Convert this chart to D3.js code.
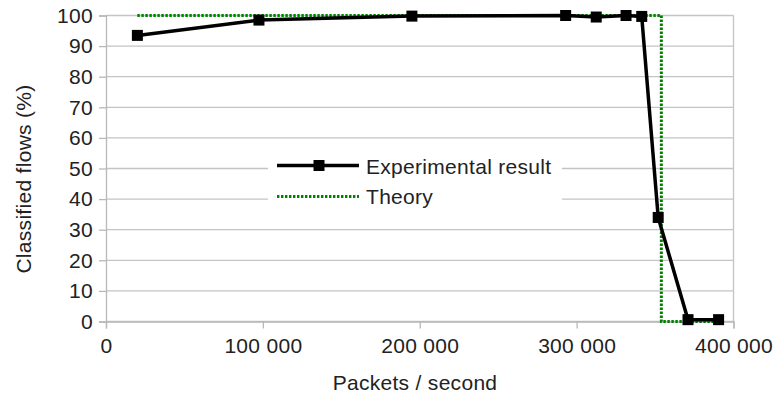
<!DOCTYPE html>
<html>
  <head>
    <meta charset="utf-8">
    <script src="https://d3js.org/d3.v7.min.js"></script>
    <style>
      body { margin: 0; background: #fff; }
      text { font-family: "Liberation Sans", Arial, sans-serif; fill: #222; letter-spacing: 0.3px; }
    </style>
  </head>
  <body>
    <div id="chart"></div>
<script>
  // packets per second vs classified flows
  const expRate = [20000, 97500, 195000, 293000, 312500, 331500, 341500, 352000, 371000, 390500];
  const expFlows = [93.5, 98.5, 99.8, 100, 99.5, 100, 99.7, 34, 0.6, 0.6];
  const theoryRate = [20000, 354000, 354000, 390500];
  const theoryFlows = [100, 100, 0, 0];
  const xTicks = [0, 100000, 200000, 300000, 400000];
  const yTicks = [0, 10, 20, 30, 40, 50, 60, 70, 80, 90, 100];
  const seriesNames = ["Experimental result", "Theory"];

  const width = 776, height = 401;
  const margin = {top: 15.5, right: 42.5, bottom: 79.5, left: 106};
  const fontSize = 21;

  const svg = d3.select("#chart")
	.append("svg")
	.attr("width", width)
	.attr("height", height);

  const x = d3.scaleLinear()
	.domain([0, 400000])
	.range([margin.left, width - margin.right]);
  const y = d3.scaleLinear()
	.domain([0, 100])
	.range([height - margin.bottom, margin.top]);

  const fmt = function(d) { return d3.format(",")(d).replace(/,/g, " "); };

  // gridlines
  svg.append("g")
    .selectAll("line")
    .data(yTicks)
    .join("line")
    .attr("x1", x(0)).attr("x2", x(400000))
    .attr("y1", d => y(d)).attr("y2", d => y(d))
    .attr("stroke", "#c4c4c4")
    .attr("stroke-width", 1.3);
  svg.append("line")
    .attr("x1", x(400000)).attr("x2", x(400000))
    .attr("y1", y(0)).attr("y2", y(100))
    .attr("stroke", "#c4c4c4")
    .attr("stroke-width", 1.3);

  const xAxis = svg.append("g")
	.attr("transform", `translate(0,${y(0)})`)
	.call(d3.axisBottom(x).tickValues(xTicks).tickFormat(fmt).tickSizeOuter(0).tickSize(7).tickPadding(10));
  const yAxis = svg.append("g")
	.attr("transform", `translate(${x(0)},0)`)
	.call(d3.axisLeft(y).tickValues(yTicks).tickSizeOuter(0).tickSize(7).tickPadding(6));
  [xAxis, yAxis].forEach(g => {
    g.selectAll("path, line").attr("stroke", "#b8b8b8").attr("stroke-width", 1.3);
    g.selectAll("text").attr("font-size", fontSize).attr("fill", "#222")
      .style("font-family", "'Liberation Sans', Arial, sans-serif");
  });

  svg.append("text")
    .attr("x", 415)
    .attr("y", 390)
    .attr("text-anchor", "middle")
    .attr("font-size", fontSize)
    .text("Packets / second");
  svg.append("text")
    .attr("transform", "translate(31,179) rotate(-90)")
    .attr("text-anchor", "middle")
    .attr("font-size", fontSize)
    .text("Classified flows (%)");

  // legend box (white, hides gridlines)
  svg.append("rect")
    .attr("x", 268).attr("y", 150)
    .attr("width", 294).attr("height", 62)
    .attr("fill", "#fff");

  // theory series
  const theory = theoryRate.map((r, i) => ({rate: r, flows: theoryFlows[i]}));
  svg.append("path")
    .datum(theory)
    .attr("fill", "none")
    .attr("stroke", "#008000")
    .attr("stroke-width", 3)
    .attr("stroke-dasharray", "2.4,1.6")
    .attr("d", d3.line().x(d => x(d.rate)).y(d => y(d.flows)));

  // experimental series
  const exp = expRate.map((r, i) => ({rate: r, flows: expFlows[i]}));
  svg.append("path")
    .datum(exp)
    .attr("fill", "none")
    .attr("stroke", "#000")
    .attr("stroke-width", 3.5)
    .attr("stroke-linejoin", "round")
    .attr("d", d3.line().x(d => x(d.rate)).y(d => y(d.flows)));
  svg.append("g")
    .selectAll("rect")
    .data(exp)
    .join("rect")
    .attr("x", d => x(d.rate) - 5.5)
    .attr("y", d => y(d.flows) - 5.5)
    .attr("width", 11).attr("height", 11)
    .attr("fill", "#000");

  // legend entries
  svg.append("line")
    .attr("x1", 277).attr("x2", 359).attr("y1", 165.5).attr("y2", 165.5)
    .attr("stroke", "#000").attr("stroke-width", 3.5);
  svg.append("rect")
    .attr("x", 313.5).attr("y", 160).attr("width", 11).attr("height", 11)
    .attr("fill", "#000");
  svg.append("line")
    .attr("x1", 277).attr("x2", 359).attr("y1", 196.5).attr("y2", 196.5)
    .attr("stroke", "#008000").attr("stroke-width", 3)
    .attr("stroke-dasharray", "2.4,1.6");
  svg.selectAll(".legtext")
    .data(seriesNames)
    .join("text")
    .attr("x", 366)
    .attr("y", (d, i) => 173.5 + i * 30)
    .attr("font-size", fontSize)
    .text(d => d);
</script>
  </body>
</html>
